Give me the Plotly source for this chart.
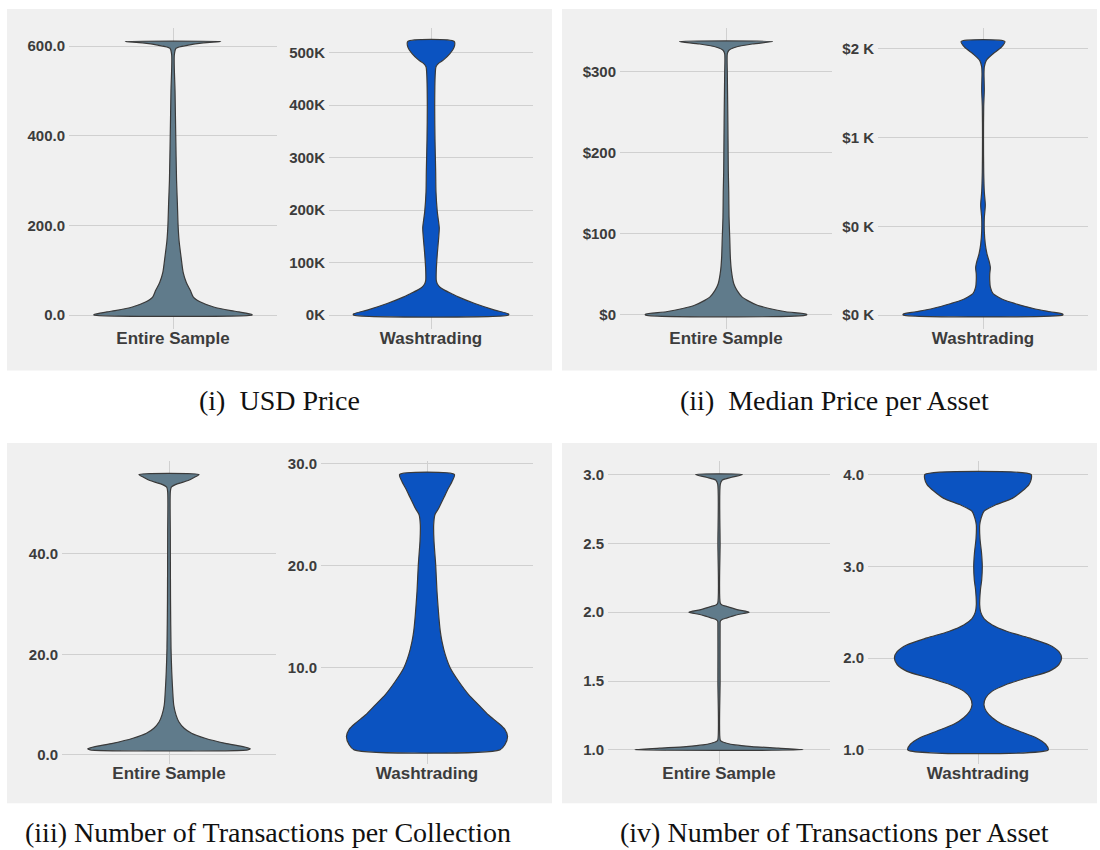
import plotly.graph_objects as go

# ---------------- data (density profiles) ----------------
# Panel (i) USD Price
usd_all_y = [0, 1, 7, 10, 18, 29, 40, 55, 73, 95, 128, 165, 200, 250, 300, 400, 500, 580, 595, 602, 607, 610]
usd_all_d = [77.7, 77.7, 65, 57, 40, 27, 20, 17, 13, 10, 8, 6, 5, 4.3, 3.5, 2.7, 2.0, 1.3, 3, 15, 30, 47]
usd_wash_y = [0, 2000, 9400, 22000, 34500, 40700, 47000, 53000, 59500, 66000, 85000, 116000, 147000, 166000,
              197000, 235000, 272600, 335000, 398000, 460000, 473000, 479000, 485600, 498000, 510700, 521000]
usd_wash_d = [77.8, 77.8, 64, 44, 27.3, 20.7, 14, 9, 6.3, 5.3, 5.3, 6.3, 7.7, 8.3,
              6.3, 5, 4.7, 4, 3.7, 4.3, 5, 7.3, 12.3, 19, 23.3, 23.3]

# Panel (ii) Median Price per Asset
med_all_y = [0, 1, 4, 8, 12, 18, 22, 30, 38.5, 55, 71, 95, 120, 152, 176, 217, 257, 298, 322, 326, 330, 334, 337]
med_all_d = [79.5, 79.5, 59, 42.7, 31, 21, 16, 11, 7.7, 5.3, 4.3, 3.7, 3, 2.7, 2.3, 2, 1.7, 1.3, 1.3, 2.7, 9.3, 26, 46]
med_wash_y = [0, 5, 18.5, 37, 65, 83, 102, 120, 157, 194, 231, 268, 305, 343, 398, 472, 546, 620, 694,
              805, 991, 1176, 1268, 1361, 1398, 1435, 1472, 1509, 1541]
med_wash_d = [79.2, 79.2, 66.7, 50, 31.7, 21.7, 15, 10, 7.3, 6.7, 6.7, 7.3, 6, 4, 2.3, 1.3, 1.3, 2.3, 1.3,
              0.7, 0.5, 0.7, 1.3, 1, 1.3, 3.3, 10, 18.3, 21.7]

# Panel (iii) Number of Transactions per Collection
col_all_y = [1.0, 1.2, 1.7, 2.3, 3.3, 4.3, 5.3, 6.6, 7.9, 9.9, 12.6, 16.6, 21.2, 31, 44, 52.3, 53.3, 54, 54.6, 55.3, 55.8]
col_all_d = [78, 80.5, 72, 55.7, 35.7, 22.3, 15, 9.7, 7, 4.7, 3.7, 2.7, 2, 1.5, 1.3, 1.3, 2.3, 9, 19, 25.7, 29.7]
col_wash_y = [2.0, 2.5, 3.3, 4.0, 4.6, 5.4, 6.4, 7.4, 8.7, 10, 11.3, 12.6, 13.6, 15.2, 17.5, 20.1, 22.4, 24,
              25.0, 25.6, 26.6, 27.6, 28.2, 28.9]
col_wash_d = [73, 78, 80.7, 78, 71.7, 61.7, 51.7, 41.7, 31.7, 23.3, 18.3, 15, 13.3, 11.7, 10, 8.7, 7, 6.7,
              8, 11.7, 16.7, 21.7, 25, 27.5]

# Panel (iv) Number of Transactions per Asset
ast_all_y = [1.0, 1.012, 1.024, 1.036, 1.048, 1.060, 1.072, 1.5, 1.9, 1.935, 1.947, 1.959, 1.971, 1.983, 2.0,
             2.017, 2.029, 2.041, 2.053, 2.065, 2.5, 2.93, 2.96, 2.98, 3.0]
ast_all_d = [84, 59, 32.7, 16, 7.7, 2.7, 1.2, 1.1, 1.1, 1.3, 3, 8, 13.3, 19, 30,
             19, 13.3, 8, 3, 1.3, 1.1, 1.3, 3.3, 12.7, 23.3]
ast_wash_y = [1.0, 1.061, 1.134, 1.206, 1.278, 1.35, 1.42, 1.49, 1.566, 1.64, 1.71, 1.78, 1.855, 1.93, 2.0,
              2.07, 2.145, 2.22, 2.29, 2.36, 2.43, 2.5, 2.58, 2.75, 2.85, 3.0, 3.15, 3.3, 3.45, 3.52, 3.60,
              3.67, 3.74, 3.82, 3.89, 3.95, 4.0]
ast_wash_d = [70.3, 67.7, 57.7, 41, 24.3, 14.3, 8.3, 6, 7.7, 14.3, 27.7, 47.7, 71, 81, 83.7,
              81, 71, 51, 29.3, 14.3, 6, 2.7, 1.7, 2.5, 3.7, 4.3, 3.5, 2, 1.7, 3, 6,
              17.7, 34.3, 44.3, 51, 53.3, 53.2]

categories = ["Entire Sample", "Washtrading"]
captions = ["(i)  USD Price", "(ii)  Median Price per Asset",
            "(iii) Number of Transactions per Collection", "(iv) Number of Transactions per Asset"]

# tick values / labels
usd_all_ticks = [0, 200, 400, 600]
usd_all_text = ["0.0", "200.0", "400.0", "600.0"]
usd_wash_ticks = [0, 100000, 200000, 300000, 400000, 500000]
usd_wash_text = ["0K", "100K", "200K", "300K", "400K", "500K"]
med_all_ticks = [0, 100, 200, 300]
med_all_text = ["$0", "$100", "$200", "$300"]
med_wash_ticks = [0, 500, 1000, 1500]
med_wash_text = ["$0 K", "$0 K", "$1 K", "$2 K"]
col_all_ticks = [0, 20, 40]
col_all_text = ["0.0", "20.0", "40.0"]
col_wash_ticks = [10, 20, 30]
col_wash_text = ["10.0", "20.0", "30.0"]
ast_all_ticks = [1.0, 1.5, 2.0, 2.5, 3.0]
ast_all_text = ["1.0", "1.5", "2.0", "2.5", "3.0"]
ast_wash_ticks = [1, 2, 3, 4]
ast_wash_text = ["1.0", "2.0", "3.0", "4.0"]

# ---------------- styling / layout ----------------
W, H = 1100, 850
GREY_FILL = "#607b8b"
BLUE_FILL = "#0b53c1"
EDGE = "#3a3a3a"
PANEL_BG = "#f0f0f0"
GRID = "#d0d0d0"
TXT = "#3c3c3c"
MAXW = 0.38

def fx(px):
    return px / W

def fy(px):
    return 1 - px / H

# (y values, density, fill, category, y ticks, tick text, x domain px, y domain px, y range)
violins = [
    (usd_all_y, usd_all_d, GREY_FILL, 0, usd_all_ticks, usd_all_text, (69, 277), (22, 325), (-30.5, 640.5)),
    (usd_wash_y, usd_wash_d, BLUE_FILL, 1, usd_wash_ticks, usd_wash_text, (329, 533), (22, 325), (-26050, 547050)),
    (med_all_y, med_all_d, GREY_FILL, 0, med_all_ticks, med_all_text, (620, 832), (22, 325), (-16.9, 353.9)),
    (med_wash_y, med_wash_d, BLUE_FILL, 1, med_wash_ticks, med_wash_text, (878, 1088), (22, 325), (-77, 1618)),
    (col_all_y, col_all_d, GREY_FILL, 0, col_all_ticks, col_all_text, (62, 276), (458, 763), (-1.74, 58.54)),
    (col_wash_y, col_wash_d, BLUE_FILL, 1, col_wash_ticks, col_wash_text, (321, 533), (458, 763), (0.655, 30.245)),
    (ast_all_y, ast_all_d, GREY_FILL, 0, ast_all_ticks, ast_all_text, (608, 830), (458, 763), (0.9, 3.1)),
    (ast_wash_y, ast_wash_d, BLUE_FILL, 1, ast_wash_ticks, ast_wash_text, (868, 1088), (458, 763), (0.85, 4.15)),
]

fig = go.Figure()
layout = {}
for i, (ys, ds, fill, cat, tv, tt, xd, yd, yr) in enumerate(violins):
    n = "" if i == 0 else str(i + 1)
    m = max(ds)
    hw = [d / m * MAXW for d in ds]
    xs = hw + [-h for h in reversed(hw)] + [hw[0]]
    yy = list(ys) + list(reversed(ys)) + [ys[0]]
    fig.add_trace(go.Scatter(
        x=xs, y=yy, mode="lines", fill="toself", fillcolor=fill,
        line=dict(color=EDGE, width=1.2, shape="spline", smoothing=0.7),
        xaxis="x" + n, yaxis="y" + n, showlegend=False, hoverinfo="skip"))
    layout["xaxis" + n] = dict(
        domain=[fx(xd[0]), fx(xd[1])], anchor="y" + n, range=[-0.5, 0.5],
        tickvals=[0], ticktext=[categories[cat]], showgrid=True, gridcolor=GRID, gridwidth=1.3,
        zeroline=False, showline=False, ticks="", fixedrange=True, ticklabelstandoff=-3,
        tickfont=dict(family="Liberation Sans", size=17, color=TXT, weight="bold"))
    layout["yaxis" + n] = dict(
        domain=[fy(yd[1]), fy(yd[0])], anchor="x" + n, range=list(yr),
        tickvals=tv, ticktext=tt, showgrid=True, gridcolor=GRID, gridwidth=1.3,
        zeroline=False, showline=False, ticks="", ticklabelstandoff=3, fixedrange=True,
        tickfont=dict(family="Liberation Sans", size=15, color=TXT, weight="bold"))

# panel backgrounds
panels = [(7, 3, 552, 367), (562, 3, 1097, 367), (7, 440, 552, 803), (562, 440, 1097, 803)]
shapes = []
for (x0, y0, x1, y1) in panels:
    shapes.append(dict(type="rect", xref="paper", yref="paper", x0=fx(x0), x1=fx(x1), y0=fy(y1), y1=fy(y0),
                       fillcolor=PANEL_BG, line=dict(width=0), layer="below"))

cap_pos = [(280, 397), (835, 397), (268, 832), (835, 832)]
annotations = []
for txt, (cx, cy) in zip(captions, cap_pos):
    annotations.append(dict(text=txt, x=fx(cx), y=fy(cy), xref="paper", yref="paper",
                            showarrow=False, xanchor="center", yanchor="middle",
                            font=dict(family="Liberation Serif", size=28, color="#111111")))

fig.update_layout(
    width=W, height=H, margin=dict(l=0, r=0, t=0, b=0),
    paper_bgcolor="white", plot_bgcolor="rgba(0,0,0,0)",
    shapes=shapes, annotations=annotations, showlegend=False, hovermode=False, **layout)

fig.write_html("out.html", config={"displayModeBar": False},
               post_script="document.body.style.margin='0px';document.body.style.overflow='hidden';")
